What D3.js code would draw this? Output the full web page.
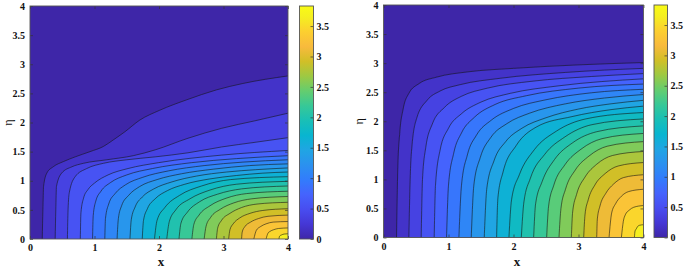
<!DOCTYPE html>
<html>
<head>
<meta charset="utf-8">
<script src="https://cdn.jsdelivr.net/npm/d3@7"></script>
<style>
  body { margin: 0; background: #fff; }
  .tick text { font-family: "Liberation Serif", "Times New Roman", serif; font-weight: bold; font-size: 10px; fill: #111; }
  .tick line { stroke: #333; stroke-width: 0.7; }
  .lbl { font-family: "Liberation Serif", "Times New Roman", serif; fill: #111; }
</style>
</head>
<body>
<div id="chart"></div>
<script>
const xTicks = [0, 1, 2, 3, 4];
const etaTicks = [0, 0.5, 1, 1.5, 2, 2.5, 3, 3.5, 4];
const cbTicks = [0, 0.5, 1, 1.5, 2, 2.5, 3, 3.5];
const zMax = 3.83;

// contour levels (20 lines)
const levels = [0.18, 0.36, 0.55, 0.73, 0.91, 1.09, 1.28, 1.46, 1.64, 1.82,
                2.01, 2.19, 2.37, 2.55, 2.74, 2.92, 3.10, 3.28, 3.46, 3.65];

// parula colormap samples (row index out of 63)
const parulaIdx = [0, 4, 8, 12, 16, 20, 24, 28, 32, 36, 40, 44, 48, 52, 56, 60, 63];
const parulaHex = ["#3e26a8", "#4537d5", "#484df0", "#4563fd", "#327cfc", "#2b91ef", "#20a5e3",
                   "#08b5d0", "#19bfb6", "#37c897", "#64cd6f", "#9dc943", "#d1bf27", "#f8ba3d",
                   "#fccf30", "#f5ef20", "#f9fb15"];

// contour lines, [x, eta]
const leftLines = [
  [[.19,0],[.2,.5],[.21,.9],[.26,1.13],[.36,1.24],[.52,1.33],[.70,1.41],[.93,1.5],[1.14,1.59],[1.29,1.7],[1.47,1.84],[1.70,2.04],[2.01,2.21],[2.43,2.39],[2.89,2.56],[3.3,2.67],[4,2.8]],
  [[.39,0],[.40,.5],[.41,.9],[.49,1.13],[.65,1.24],[.83,1.3],[1.19,1.36],[1.6,1.43],[1.94,1.53],[2.45,1.73],[2.97,1.9],[3.49,2.03],[4,2.16]],
  [[.58,0],[.59,.5],[.61,.8],[.70,1.07],[.88,1.21],[1.14,1.3],[1.5,1.36],[1.94,1.41],[2.45,1.48],[2.97,1.58],[3.49,1.66],[4,1.74]],
  [[.78,0],[.79,.45],[.83,.7],[.9,.85],[1.0,.96],[1.21,1.1],[1.52,1.21],[1.99,1.31],[2.97,1.44],[4,1.52]],
  [[.97,0],[.98,.4],[1.02,.65],[1.1,.82],[1.25,.97],[1.5,1.1],[1.9,1.21],[2.5,1.31],[3.2,1.38],[4,1.43]],
  [[1.16,0],[1.17,.35],[1.22,.6],[1.32,.78],[1.48,.93],[1.75,1.06],[2.15,1.17],[2.7,1.26],[3.3,1.32],[4,1.36]],
  [[1.35,0],[1.37,.35],[1.42,.57],[1.53,.75],[1.7,.9],[1.97,1.02],[2.35,1.12],[2.85,1.2],[3.4,1.26],[4,1.29]],
  [[1.55,0],[1.57,.33],[1.63,.55],[1.74,.72],[1.92,.86],[2.2,.98],[2.58,1.08],[3.05,1.15],[3.5,1.19],[4,1.22]],
  [[1.74,0],[1.76,.32],[1.82,.52],[1.94,.69],[2.13,.83],[2.4,.94],[2.78,1.03],[3.2,1.09],[3.6,1.13],[4,1.15]],
  [[1.93,0],[1.97,.32],[2.09,.54],[2.32,.75],[2.66,.91],[3.11,1.02],[4,1.07]],
  [[2.12,0],[2.16,.30],[2.26,.50],[2.48,.69],[2.79,.84],[3.2,.94],[4,.99]],
  [[2.31,0],[2.34,.27],[2.44,.46],[2.63,.64],[2.91,.77],[3.28,.86],[4,.91]],
  [[2.51,0],[2.54,.25],[2.62,.41],[2.79,.57],[3.04,.70],[3.36,.78],[4,.82]],
  [[2.70,0],[2.73,.22],[2.80,.37],[2.95,.51],[3.16,.62],[3.44,.69],[4,.73]],
  [[2.89,0],[2.91,.19],[2.97,.32],[3.10,.44],[3.28,.54],[3.52,.60],[4,.63]],
  [[3.08,0],[3.10,.16],[3.15,.26],[3.25,.36],[3.41,.44],[3.61,.49],[4,.52]],
  [[3.28,0],[3.29,.12],[3.33,.21],[3.42,.29],[3.54,.35],[3.69,.39],[4,.41]],
  [[3.47,0],[3.51,.15],[3.57,.21],[3.66,.26],[3.77,.29],[4,.30]],
  [[3.66,0],[3.69,.10],[3.72,.13],[3.78,.16],[3.85,.18],[4,.19]],
  [[3.86,0],[3.87,.05],[3.9,.07],[3.94,.085],[4,.09]]
];

// contour lines, [x, eta]
const rightLines = [
  [[.2,0],[.22,1.2],[.25,1.8],[.3,2.2],[.39,2.48],[.55,2.65],[.82,2.76],[1.3,2.85],[2.0,2.91],[3.0,2.97],[4,3.01]],
  [[.39,0],[.41,1.0],[.44,1.6],[.51,2.05],[.67,2.36],[.87,2.52],[1.18,2.63],[1.8,2.74],[2.8,2.84],[4,2.91]],
  [[.58,0],[.6,1.0],[.65,1.55],[.75,1.95],[.94,2.24],[1.2,2.43],[1.6,2.57],[2.3,2.69],[3.2,2.77],[4,2.82]],
  [[.78,0],[.8,.9],[.87,1.5],[1.0,1.88],[1.2,2.13],[1.5,2.33],[1.95,2.48],[2.7,2.61],[4,2.73]],
  [[.97,0],[1.0,.9],[1.08,1.45],[1.2,1.8],[1.4,2.07],[1.72,2.29],[2.2,2.44],[3.0,2.57],[4,2.64]],
  [[1.16,0],[1.2,.9],[1.29,1.42],[1.43,1.76],[1.66,2.02],[2.0,2.22],[2.5,2.37],[3.2,2.49],[4,2.55]],
  [[1.35,0],[1.39,.9],[1.49,1.38],[1.65,1.72],[1.9,1.96],[2.25,2.14],[2.8,2.3],[3.4,2.4],[4,2.46]],
  [[1.55,0],[1.59,.85],[1.7,1.32],[1.88,1.65],[2.13,1.88],[2.5,2.06],[3.0,2.21],[3.5,2.3],[4,2.36]],
  [[1.74,0],[1.76,.68],[1.84,1.13],[2.04,1.58],[2.35,1.9],[2.9,2.08],[3.5,2.2],[4,2.26]],
  [[1.93,0],[1.97,.65],[2.09,1.08],[2.32,1.51],[2.66,1.83],[3.11,2.04],[4,2.15]],
  [[2.12,0],[2.16,.61],[2.26,1.02],[2.48,1.43],[2.79,1.73],[3.2,1.94],[4,2.04]],
  [[2.31,0],[2.34,.58],[2.44,.96],[2.63,1.34],[2.91,1.63],[3.28,1.82],[4,1.92]],
  [[2.51,0],[2.54,.54],[2.62,.9],[2.79,1.25],[3.04,1.52],[3.36,1.70],[4,1.79]],
  [[2.70,0],[2.73,.5],[2.80,.83],[2.95,1.16],[3.16,1.4],[3.44,1.57],[4,1.65]],
  [[2.89,0],[2.91,.44],[2.97,.74],[3.10,1.04],[3.28,1.26],[3.52,1.41],[4,1.48]],
  [[3.08,0],[3.10,.39],[3.15,.65],[3.25,.9],[3.41,1.1],[3.61,1.23],[4,1.29]],
  [[3.28,0],[3.29,.32],[3.33,.54],[3.42,.76],[3.54,.92],[3.69,1.03],[4,1.08]],
  [[3.47,0],[3.51,.42],[3.57,.58],[3.66,.71],[3.77,.79],[4,.83]],
  [[3.66,0],[3.69,.28],[3.72,.39],[3.78,.47],[3.85,.52],[4,.55]],
  [[3.86,0],[3.87,.11],[3.89,.15],[3.91,.19],[3.94,.21],[4,.22]]
];

const W = 685, H = 269;
const svg = d3.select("#chart").append("svg")
  .attr("width", W).attr("height", H)
  .style("display", "block");

const color = d3.scaleLinear()
  .domain(parulaIdx.map(function(i){ return i / 63 * zMax }))
  .range(parulaHex)
  .interpolate(d3.interpolateRgb)
  .clamp(true);

const defs = svg.append("defs");
const grad = defs.append("linearGradient")
  .attr("id", "parula")
  .attr("x1", 0).attr("y1", 1).attr("x2", 0).attr("y2", 0);
grad.selectAll("stop")
  .data(parulaIdx)
  .enter().append("stop")
  .attr("offset", function(d){ return d / 63 })
  .attr("stop-color", function(d, i){ return parulaHex[i] });

const panels = [
  { lines: leftLines, left: 30, right: 288, top: 6, bottom: 239, cbLeft: 299.5, cbRight: 313.5, xLab: 161, etaLab: 12 },
  { lines: rightLines, left: 383.5, right: 643.5, top: 5, bottom: 237.5, cbLeft: 654, cbRight: 667.5, xLab: 517, etaLab: 363 }
];

panels.forEach(function(p, pi){
  const x = d3.scaleLinear().domain([0, 4]).range([p.left, p.right]);
  const y = d3.scaleLinear().domain([0, 4]).range([p.bottom, p.top]);
  const g = svg.append("g");

  defs.append("clipPath").attr("id", "clip" + pi)
    .append("rect")
    .attr("x", p.left).attr("y", p.top)
    .attr("width", p.right - p.left).attr("height", p.bottom - p.top);

  const area = g.append("g").attr("clip-path", "url(#clip" + pi + ")");

  // lowest band
  area.append("rect")
    .attr("x", p.left).attr("y", p.top)
    .attr("width", p.right - p.left).attr("height", p.bottom - p.top)
    .attr("fill", color(0));

  const line = d3.line()
    .x(function(d){ return x(d[0]) })
    .y(function(d){ return y(d[1]) })
    .curve(d3.curveMonotoneX);

  // filled bands: region beyond each contour, toward the (4, 0) corner
  area.selectAll(".band")
    .data(p.lines)
    .enter().append("path")
    .attr("class", "band")
    .attr("d", function(d){ return line(d) + "L" + x(4) + "," + y(0) + "Z" })
    .attr("fill", function(d, i){ return color(levels[i]) })
    .attr("stroke", function(d, i){ return color(levels[i]) })
    .attr("stroke-width", 0.3);

  area.selectAll(".cline")
    .data(p.lines)
    .enter().append("path")
    .attr("class", "cline")
    .attr("d", line)
    .attr("fill", "none")
    .attr("stroke", "#141414")
    .attr("stroke-width", 0.65)
    .attr("stroke-opacity", 0.9);

  // axes, ticks inward
  g.append("g")
    .attr("transform", "translate(0," + p.bottom + ")")
    .call(d3.axisBottom(x).tickValues(xTicks).tickFormat(d3.format("~g")).tickSizeInner(-3).tickSizeOuter(0).tickPadding(5))
    .call(function(a){ a.select(".domain").remove() });
  g.append("g")
    .attr("transform", "translate(0," + p.top + ")")
    .call(d3.axisTop(x).tickValues(xTicks).tickFormat("").tickSizeInner(-3).tickSizeOuter(0))
    .call(function(a){ a.select(".domain").remove() });
  g.append("g")
    .attr("transform", "translate(" + p.left + ",0)")
    .call(d3.axisLeft(y).tickValues(etaTicks).tickFormat(d3.format("~g")).tickSizeInner(-3).tickSizeOuter(0).tickPadding(5))
    .call(function(a){ a.select(".domain").remove() });
  g.append("g")
    .attr("transform", "translate(" + p.right + ",0)")
    .call(d3.axisRight(y).tickValues(etaTicks).tickFormat("").tickSizeInner(-3).tickSizeOuter(0))
    .call(function(a){ a.select(".domain").remove() });

  g.append("rect")
    .attr("x", p.left).attr("y", p.top)
    .attr("width", p.right - p.left).attr("height", p.bottom - p.top)
    .attr("fill", "none")
    .attr("stroke", "#555")
    .attr("stroke-width", 0.9);

  // colorbar
  const cb = d3.scaleLinear().domain([0, zMax]).range([p.bottom, p.top]);
  g.append("rect")
    .attr("x", p.cbLeft).attr("y", p.top)
    .attr("width", p.cbRight - p.cbLeft).attr("height", p.bottom - p.top)
    .attr("fill", "url(#parula)");
  g.append("g")
    .attr("transform", "translate(" + p.cbRight + ",0)")
    .call(d3.axisRight(cb).tickValues(cbTicks).tickFormat(d3.format("~g")).tickSizeInner(-3).tickSizeOuter(0).tickPadding(3))
    .call(function(a){ a.select(".domain").remove() });
  g.append("rect")
    .attr("x", p.cbLeft).attr("y", p.top)
    .attr("width", p.cbRight - p.cbLeft).attr("height", p.bottom - p.top)
    .attr("fill", "none")
    .attr("stroke", "#555")
    .attr("stroke-width", 0.9);

  // axis labels
  g.append("text")
    .attr("class", "lbl")
    .attr("x", p.xLab).attr("y", 266)
    .attr("text-anchor", "middle")
    .style("font-size", "13px")
    .style("font-weight", "bold")
    .text("x");
  g.append("text")
    .attr("class", "lbl")
    .attr("transform", "translate(" + p.etaLab + "," + (p.top + p.bottom) / 2 + ") rotate(-90)")
    .attr("text-anchor", "middle")
    .style("font-size", "12px")
    .text("η");
});
</script>
</body>
</html>
